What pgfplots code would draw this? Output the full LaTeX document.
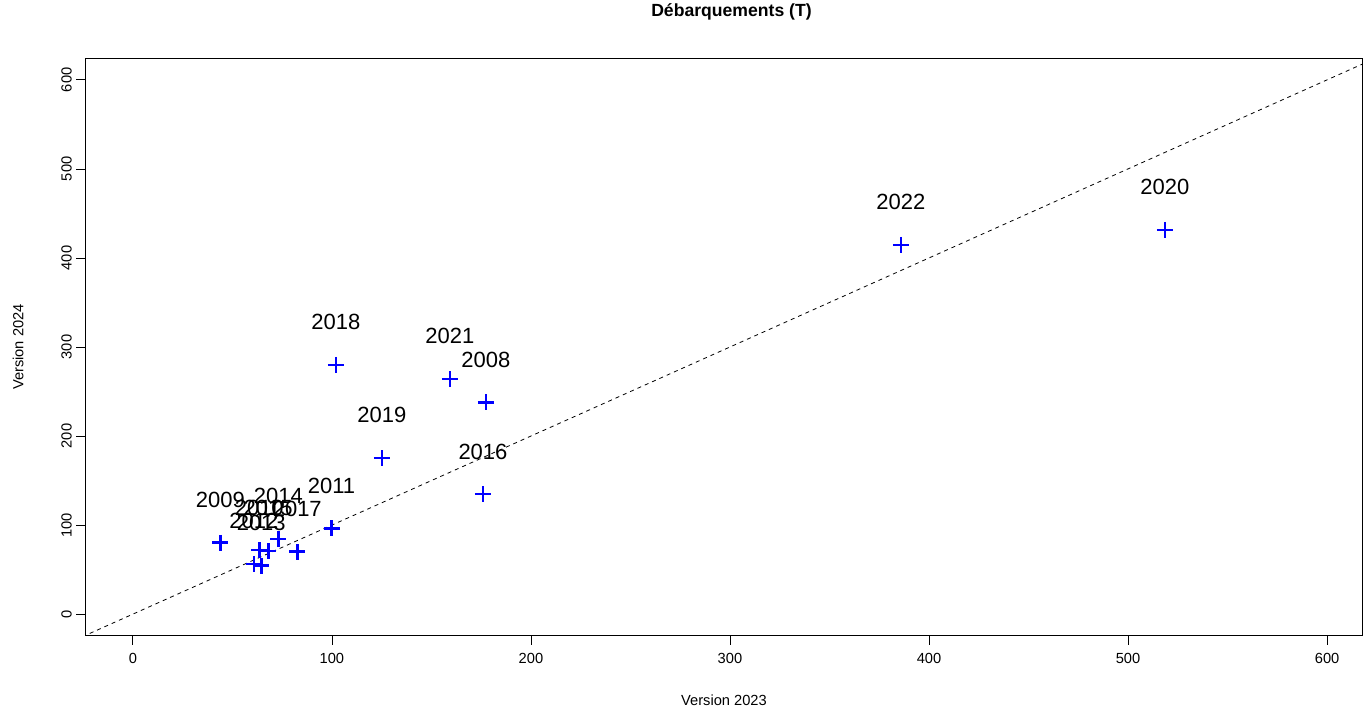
\documentclass[border=0pt]{standalone}
\usepackage{fontspec}
\setmainfont{Liberation Sans}
\usepackage{pgfplots}
\pgfplotsset{compat=1.18}

\pgfplotstableread{
x     y      label
177.4 238.0  2008
44.0  80.1   2009
63.5  71.9   2010
99.8  96.3   2011
60.8  56.2   2012
64.5  54.3   2013
73.1  84.3   2014
68.0  70.8   2015
175.9 134.8  2016
82.6  70.0   2017
102.0 279.8  2018
125.1 175.3  2019
518.5 431.5  2020
159.3 264.0  2021
385.9 414.6  2022
}\debarq

\begin{document}
\begin{tikzpicture}
\useasboundingbox (-64.125pt,-54.375pt) rectangle (958.875pt,476.625pt);
\begin{axis}[
    at={(0,0)}, anchor=south west,
    scale only axis,
    width=957.75pt, height=432.75pt,
    xmin=-23.8, xmax=617.8,
    ymin=-24, ymax=624,
    xtick={0,100,...,600},
    ytick={0,100,...,600},
    tick pos=left,
    tick align=outside,
    major tick length=6.75pt,
    tick style={black, line width=0.6pt},
    axis line style={line width=0.6pt},
    /pgf/number format/assume math mode=true,
    ticklabel style={font=\fontsize{11}{13}\selectfont},
    xticklabel style={yshift=-3pt},
    yticklabel style={rotate=90, anchor=south},
    xlabel={Version 2023},
    ylabel={Version 2024},
    label style={font=\fontsize{11}{13}\selectfont},
    xlabel style={at={([yshift=-48.5pt]axis description cs:0.5,0)}, anchor=center},
    ylabel style={at={([xshift=-50.6pt]axis description cs:0,0.5)}, anchor=center, rotate=0},
    title={Débarquements (T)},
    title style={at={([xshift=5.6pt,yshift=28.9pt]axis description cs:0.5,1)}, anchor=center, font=\bfseries\fontsize{13.2}{15}\selectfont},
]
\addplot[black, line width=0.6pt, dash pattern=on 3pt off 3pt, forget plot] coordinates {(-40,-40) (640,640)};
\addplot[
    only marks, mark=+, mark size=6pt, blue, line width=2pt,
    nodes near coords, point meta=explicit symbolic,
    every node near coord/.style={black, anchor=center, yshift=32pt, font=\fontsize{16.5}{19}\selectfont},
] table[x=x, y=y, meta=label] {\debarq};
\end{axis}
\end{tikzpicture}
\end{document}
